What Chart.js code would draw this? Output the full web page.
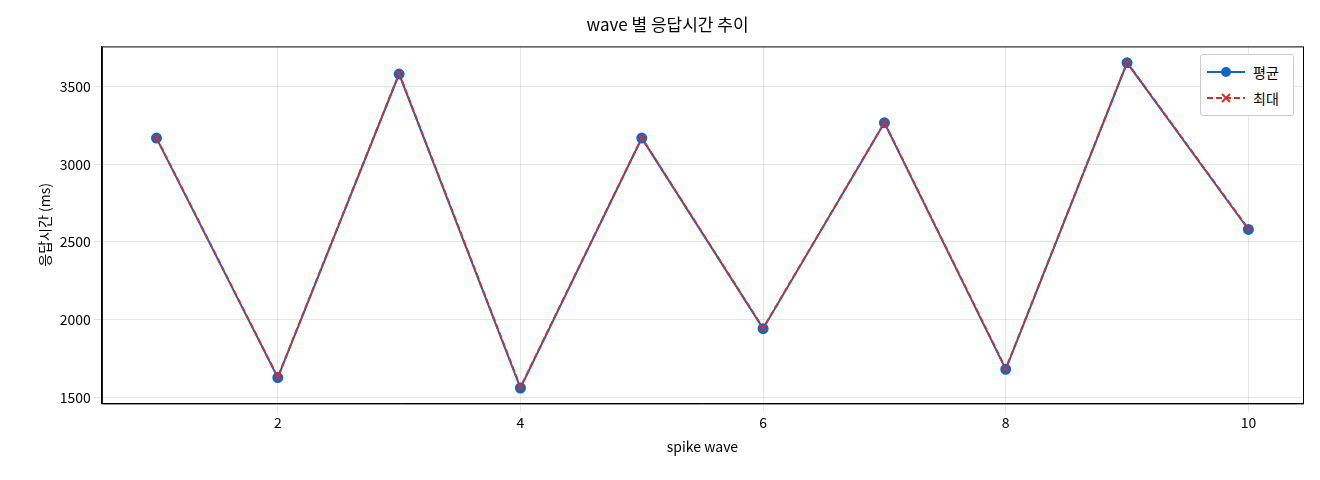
<!DOCTYPE html>
<html><head><meta charset="utf-8">
<script src="https://cdn.jsdelivr.net/npm/chart.js@4/dist/chart.umd.min.js"></script>
<style>
body{margin:0;background:#fff;font-family:"Noto Sans CJK KR",sans-serif}
#wrap{position:relative;width:1320px;height:480px}
#legend{position:absolute;left:1200px;top:54px;width:92px;border:1px solid #ccc;border-radius:3px;background:#fff;font-size:14px;padding:4px 0}
.row{display:flex;align-items:center;height:26px;padding-left:6px}
.row svg{margin-right:8px}
</style></head><body>
<div id="wrap"><canvas id="c" width="1320" height="480"></canvas>
<div id="legend">
<div class="row"><svg width="38" height="12"><line x1="0" y1="6" x2="38" y2="6" stroke="#1565c0" stroke-width="2"/><circle cx="19" cy="6" r="5" fill="#1565c0"/></svg>평균</div>
<div class="row"><svg width="38" height="12"><line x1="0" y1="6" x2="38" y2="6" stroke="#d32f2f" stroke-width="2" stroke-dasharray="6,3"/><path d="M15 2L23 10M23 2L15 10" stroke="#d32f2f" stroke-width="2"/></svg>최대</div>
</div></div>
<script>
const waves=[1,2,3,4,5,6,7,8,9,10];
const avgValues=[3168,1627,3580,1560,3168,1942,3266,1680,3652,2580];
const maxValues=[3170,1630,3584,1565,3170,1945,3268,1684,3655,2584];
const yTicks=[1500,2000,2500,3000,3500];
const xTicks=[2,4,6,8,10];
const font={family:"Noto Sans CJK KR",size:14};
const frame={id:'frame',afterDraw(c){const a=c.chartArea,x=c.ctx;x.save();x.strokeStyle='#000';x.lineWidth=1;x.strokeRect(a.left+0.5,a.top+0.5,a.right-a.left,a.bottom-a.top);x.restore();}};
new Chart(document.getElementById('c'),{
type:'scatter',
data:{datasets:[
{label:'평균',order:2,data:waves.map((w,i)=>({x:w,y:avgValues[i]})),showLine:true,borderColor:'#1565c0',backgroundColor:'#1565c0',borderWidth:2,pointRadius:4.5,pointStyle:'circle'},
{label:'최대',order:1,data:waves.map((w,i)=>({x:w,y:maxValues[i]})),showLine:true,borderColor:'#d32f2f',backgroundColor:'#d32f2f',borderWidth:2,borderDash:[6,3],pointRadius:4,pointStyle:'cross',rotation:45,pointBorderWidth:1.5}
]},
options:{responsive:false,animation:false,
layout:{padding:{left:32,right:17,top:0,bottom:21}},
plugins:{legend:{display:false},tooltip:{enabled:false},
title:{display:true,text:'wave 별 응답시간 추이',color:'#000',font:{family:font.family,size:17,weight:'normal'},padding:{top:14,bottom:12}}},
scales:{
x:{type:'linear',min:0.55,max:10.45,afterBuildTicks:a=>{a.ticks=xTicks.map(v=>({value:v}))},
grid:{color:'rgba(0,0,0,0.1)'},border:{color:'#000'},ticks:{color:'#000',font,callback:v=>String(v)},
title:{display:true,text:'spike wave',color:'#000',font}},
y:{min:1461,max:3758,afterBuildTicks:a=>{a.ticks=yTicks.map(v=>({value:v}))},
grid:{color:'rgba(0,0,0,0.1)'},border:{color:'#000'},ticks:{color:'#000',font,callback:v=>String(v)},
title:{display:true,text:'응답시간 (ms)',color:'#000',font}}
}}, plugins:[frame]});
</script></body></html>
